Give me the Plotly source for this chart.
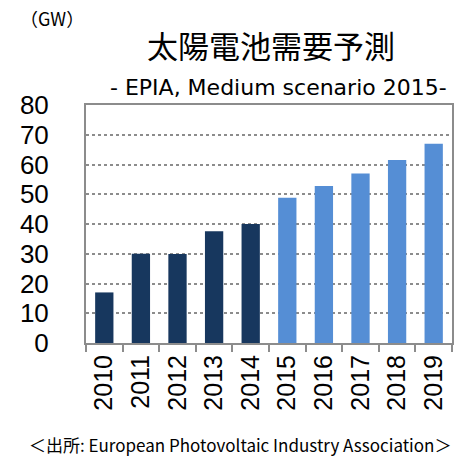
import plotly.graph_objects as go

years = ["2010", "2011", "2012", "2013", "2014", "2015", "2016", "2017", "2018", "2019"]
demand_gw = [17, 30, 29.9, 37.6, 40, 48.8, 52.8, 57, 61.5, 67]
bar_colors = ["#17375E"] * 5 + ["#558ED5"] * 5

title_text = "太陽電池需要予測"
subtitle_text = "- EPIA, Medium scenario 2015-"
unit_text = "（GW）"
source_text = "＜出所: European Photovoltaic Industry Association＞"

fig = go.Figure(go.Bar(x=years, y=demand_gw, marker=dict(color=bar_colors, line=dict(width=0)), width=0.5))

W, H = 466, 457
l, r, t, b = 86, 14, 105, 114

fig.update_layout(
    width=W, height=H,
    margin=dict(l=l, r=r, t=t, b=b, pad=0),
    paper_bgcolor="white", plot_bgcolor="white",
    showlegend=False,
    font=dict(family="Liberation Sans, Arial, sans-serif", color="black"),
    xaxis=dict(
        type="category", tickangle=-90, tickson="boundaries",
        ticks="outside", ticklen=7, tickcolor="#8c8c8c", tickwidth=1.5,
        tickfont=dict(size=25), showline=True, linecolor="#8c8c8c", linewidth=2,
        mirror=True, showgrid=False,
    ),
    yaxis=dict(
        range=[0, 80], dtick=10, tickfont=dict(size=26), ticks="",
        ticklabelstandoff=30,
        showline=True, linecolor="#8c8c8c", linewidth=2, mirror=True,
        showgrid=True, gridcolor="#8c8c8c", griddash="dot", gridwidth=1.5,
        zeroline=False,
    ),
)

pw, ph = W - l - r, H - t - b

def px2paper(px, py):
    return (px - l) / pw, (H - b - py) / ph

anns = [
    (title_text, 271, 44, 31, "Noto Sans CJK JP", "center"),
    (subtitle_text, 278, 87, 22, "DejaVu Sans", "center"),
    (unit_text, 18, 18, 18, "Noto Sans CJK JP", "left"),
    (source_text, 240, 444, 17, "Noto Sans CJK JP", "center"),
]
for text, px, py, size, fam, anchor in anns:
    x, y = px2paper(px, py)
    fig.add_annotation(text=text, x=x, y=y, xref="paper", yref="paper", showarrow=False,
                       font=dict(size=size, family=fam, color="black"),
                       xanchor=anchor, yanchor="middle")

fig.write_html("out.html", config={"displayModeBar": False},
               post_script="document.body.style.margin='0';document.body.style.padding='0';")
